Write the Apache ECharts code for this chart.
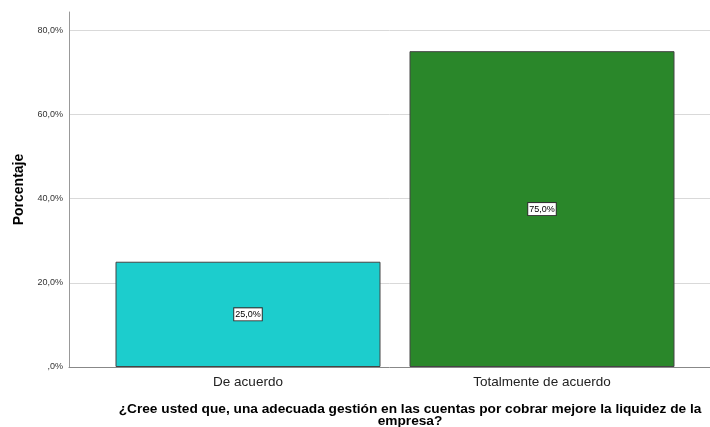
<!DOCTYPE html>
<html>
<head>
<meta charset="utf-8">
<script src="https://cdn.jsdelivr.net/npm/echarts@6/dist/echarts.min.js"></script>
<style>html,body{margin:0;padding:0;background:#fff;}#c{width:710px;height:427px;}</style>
</head>
<body>
<div id="c"></div>
<script>
const categories = ['De acuerdo', 'Totalmente de acuerdo'];
const values = [25.0, 75.0];
const barColors = ['#1ccdcd', '#2a872a'];
const yTicks = [0, 20, 40, 60, 80];
const yAxisTitle = 'Porcentaje';
const xAxisTitle = '¿Cree usted que, una adecuada gestión en las cuentas por cobrar mejore la liquidez de la\nempresa?';

function pct(v) {
  if (v === 0) return ',0%';
  return v.toFixed(1).replace('.', ',') + '%';
}

const chart = echarts.init(document.getElementById('c'));
chart.setOption({
  animation: false,
  backgroundColor: '#fff',
  title: {
    text: xAxisTitle,
    left: 405,
    top: 398,
    textAlign: 'center',
    textStyle: {fontFamily: 'Liberation Sans, Arial, sans-serif', fontSize: 13.7, fontWeight: 'bold', color: '#000', lineHeight: 12}
  },
  grid: [
    {left: 69, right: 0, top: 12, bottom: 60},
    {left: 101, right: 21, top: 12, bottom: 60}
  ],
  xAxis: [
    {gridIndex: 0, type: 'value', min: 0, max: 1, axisLine: {show: true, onZero: false, lineStyle: {color: '#888', width: 1}}, axisTick: {show: false}, axisLabel: {show: false}, splitLine: {show: false}},
    {gridIndex: 1, type: 'category', data: categories, axisLine: {show: false}, axisTick: {show: false},
      axisLabel: {fontFamily: 'Liberation Sans, Arial, sans-serif', fontSize: 13.5, color: '#222', margin: 8}}
  ],
  yAxis: [
    {gridIndex: 0, type: 'value', min: 0, max: 84.3, interval: 20,
      name: yAxisTitle, nameLocation: 'middle', nameGap: 43, nameRotate: 90,
      nameTextStyle: {fontFamily: 'Liberation Sans, Arial, sans-serif', fontSize: 14, fontWeight: 'bold', color: '#000'},
      axisLine: {show: true, lineStyle: {color: '#999', width: 1}}, axisTick: {show: false},
      axisLabel: {formatter: v => (yTicks.indexOf(v) >= 0 ? pct(v) : ''), fontFamily: 'Liberation Sans, Arial, sans-serif', fontSize: 9, color: '#333', margin: 6},
      splitLine: {show: true, showMinLine: false, showMaxLine: false, lineStyle: {color: '#d9d9d9', width: 1}}
    },
    {gridIndex: 1, type: 'value', min: 0, max: 84.3, show: false, splitLine: {show: false}}
  ],
  series: [{
    type: 'bar',
    xAxisIndex: 1,
    yAxisIndex: 1,
    barWidth: 265,
    data: values.map((v, i) => ({value: v, itemStyle: {color: barColors[i]}})),
    itemStyle: {borderColor: '#444', borderWidth: 1},
    label: {
      show: true, position: 'inside', formatter: p => pct(p.value),
      fontFamily: 'Liberation Sans, Arial, sans-serif', fontSize: 9, color: '#000',
      backgroundColor: '#fff', borderColor: '#333', borderWidth: 1, padding: [2, 1, 1, 1]
    }
  }]
});
</script>
</body>
</html>
